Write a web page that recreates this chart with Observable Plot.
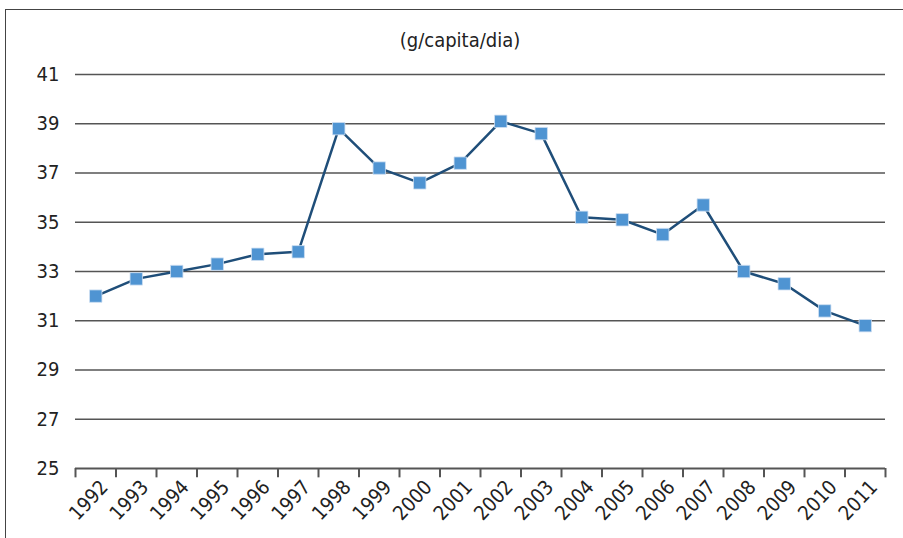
<!DOCTYPE html>
<html>
<head>
<meta charset="utf-8">
<script src="https://cdn.jsdelivr.net/npm/d3@7"></script>
<script src="https://cdn.jsdelivr.net/npm/@observablehq/plot@0.6"></script>
<style>
  html, body { margin: 0; padding: 0; background: #fff; width: 903px; height: 538px; overflow: hidden; }
  #wrap { position: relative; width: 903px; height: 538px; font-family: "DejaVu Sans Condensed", "DejaVu Sans", sans-serif; font-stretch: condensed; }
  #frame { position: absolute; left: 5px; top: 9px; width: 920px; height: 560px; border: 1px solid #444; box-sizing: border-box; }
  #title { position: absolute; left: 0; top: 28px; width: 920px; text-align: center; font-size: 20px; color: #222; }
  #chart { position: absolute; left: 0; top: 0; }
</style>
</head>
<body>
<div id="wrap">
  <div id="frame"></div>
  <div id="title">(g/capita/dia)</div>
  <div id="chart"></div>
</div>
<script>
const years = ["1992","1993","1994","1995","1996","1997","1998","1999","2000","2001","2002","2003","2004","2005","2006","2007","2008","2009","2010","2011"];
const values = [32.0, 32.7, 33.0, 33.3, 33.7, 33.8, 38.8, 37.2, 36.6, 37.4, 39.1, 38.6, 35.2, 35.1, 34.5, 35.7, 33.0, 32.5, 31.4, 30.8];
const yTicks = [25, 27, 29, 31, 33, 35, 37, 39, 41];

const data = years.map((y, i) => ({year: y, value: values[i]}));

const W = 903, H = 538, mL = 75, mR = 18;
const bw = (W - mL - mR) / years.length;

const plot = Plot.plot({
  width: W,
  height: H,
  marginLeft: mL,
  marginRight: mR,
  marginTop: 74,
  marginBottom: 70,
  style: {fontFamily: '"DejaVu Sans Condensed", "DejaVu Sans", sans-serif', fontStretch: "condensed", fontSize: "20px", background: "transparent", color: "#222"},
  x: {type: "band", domain: years, padding: 0, round: false, axis: null},
  y: {domain: [25, 41], ticks: yTicks, tickSize: 0, tickPadding: 16, label: null},
  marks: [
    Plot.ruleY(yTicks.filter(t => t > 25), {y: d => d, stroke: "#555", strokeWidth: 1.5}),
    Plot.ruleY([25], {stroke: "#555", strokeWidth: 2}),
    Plot.ruleX(years, {x: d => d, dx: -bw / 2, y1: 25, y2: 24.62, stroke: "#555", strokeWidth: 2}),
    Plot.ruleX([years[years.length - 1]], {x: d => d, dx: bw / 2, y1: 25, y2: 24.62, stroke: "#555", strokeWidth: 2}),
    Plot.text(years, {x: d => d, y: 25, text: d => d, dy: 32, dx: -7, rotate: -47, textAnchor: "middle", fontSize: 20, fill: "#222"}),
    Plot.line(data, {x: "year", y: "value", stroke: "#1f4e79", strokeWidth: 2.5}),
    Plot.dot(data, {x: "year", y: "value", symbol: "square", r: 7, fill: "#4f94d2", stroke: "#cfe0f2", strokeWidth: 0.8})
  ]
});
document.getElementById("chart").appendChild(plot);
</script>
</body>
</html>
